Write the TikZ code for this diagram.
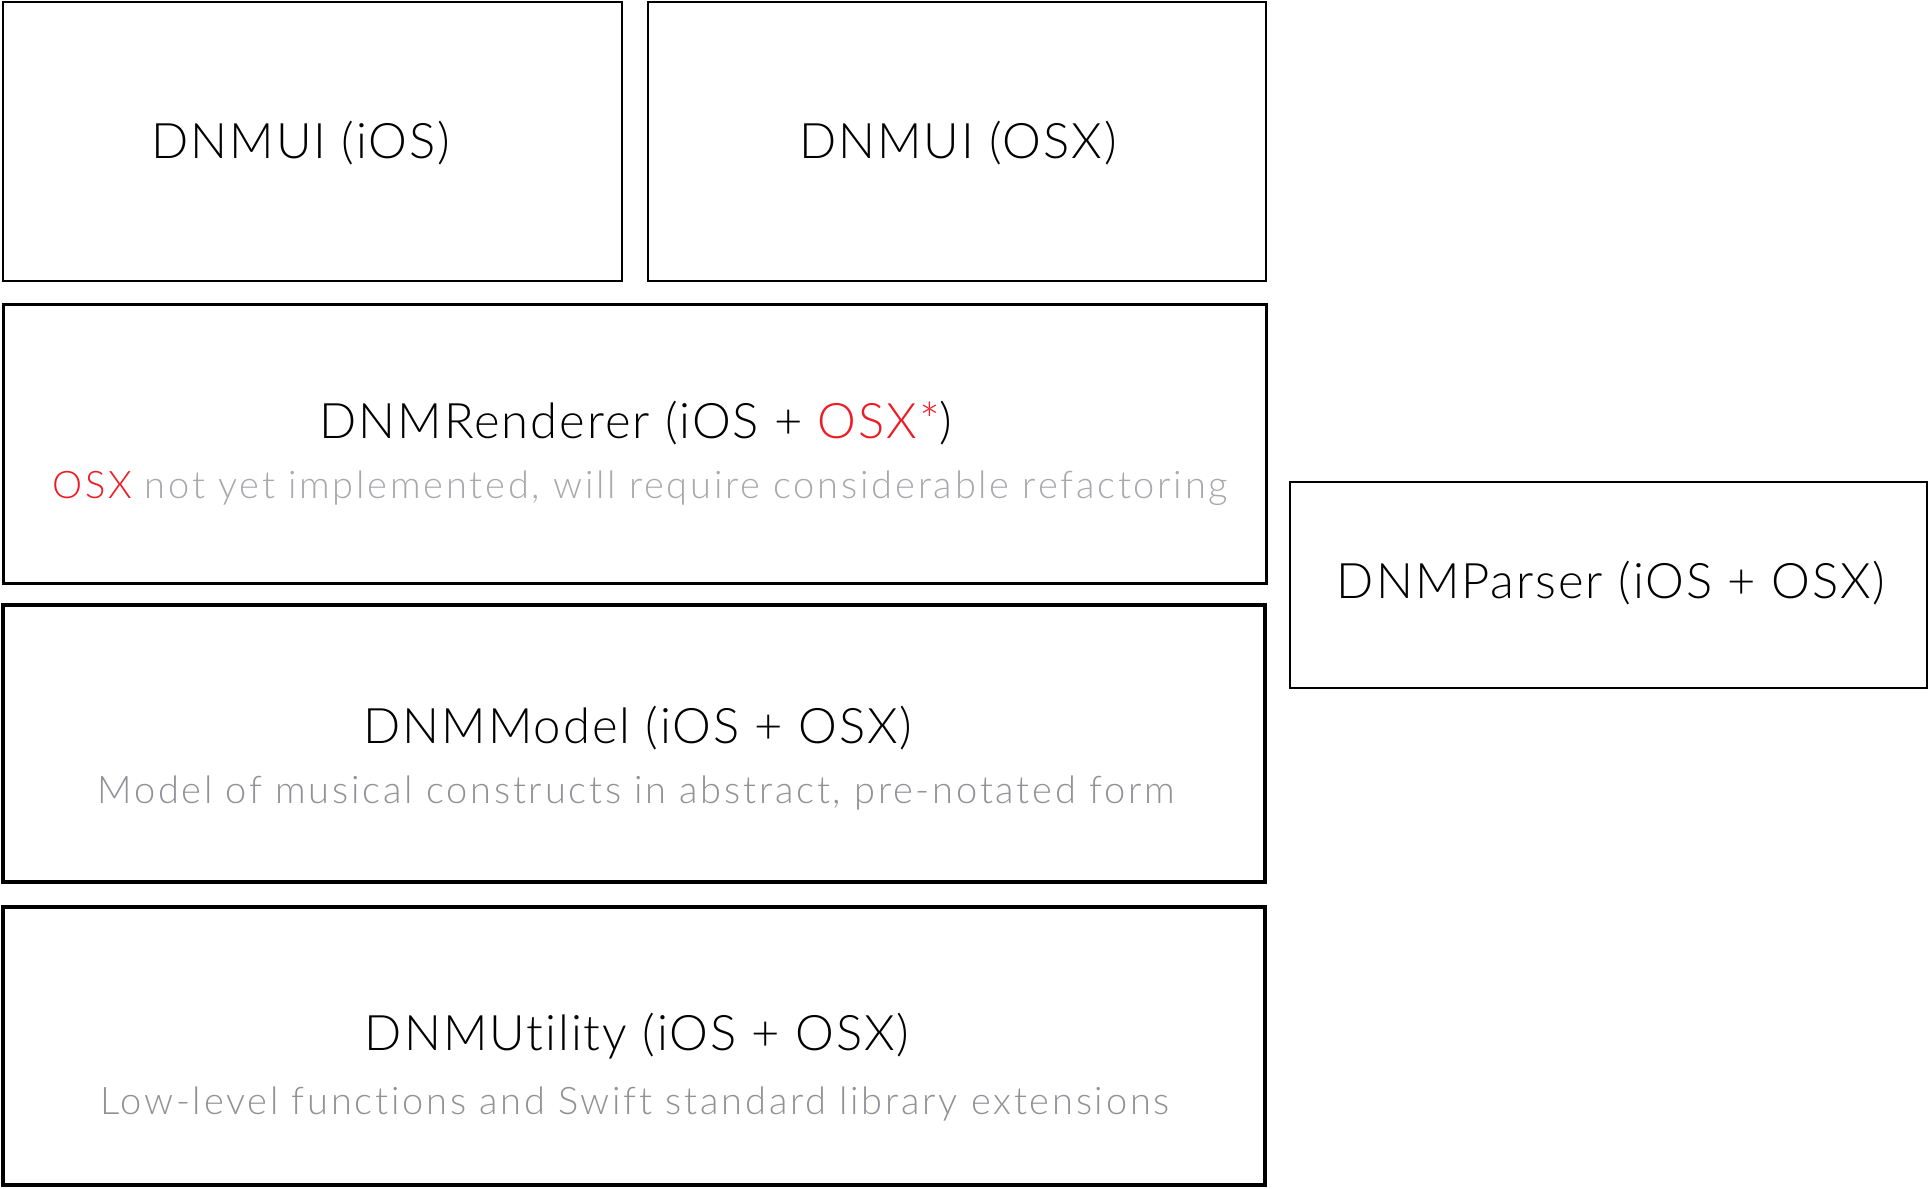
\documentclass[tikz,border=0pt]{standalone}
\usepackage{fontspec}
\setmainfont{Lato Light}
\newfontfamily\titlefont[LetterSpace=4,Ligatures={NoCommon}]{Lato Light}
\newfontfamily\subfont[LetterSpace=7.3,Ligatures={NoCommon}]{Lato Light}
\definecolor{osxred}{RGB}{237,28,36}
\definecolor{subgrayA}{RGB}{168,168,173}
\definecolor{subgrayB}{RGB}{145,145,150}
\begin{document}
\begin{tikzpicture}[x=1pt,y=-1pt,
  box/.style={draw=black,inner sep=0pt,outer sep=0pt,fill=none},
  ttl/.style={anchor=base,inner sep=0pt,font=\titlefont\fontsize{49}{58}\selectfont},
  sub/.style={anchor=base,inner sep=0pt,font=\subfont\fontsize{38}{46}\selectfont}]
\useasboundingbox (0,0) rectangle (1929,1188);
\fill[white] (0,0) rectangle (1929,1188);
% boxes
\node[box,line width=2pt,minimum width=619pt,minimum height=279pt] (uiios) at (312,141.5) {};
\node[box,line width=2pt,minimum width=618pt,minimum height=279pt] (uiosx) at (957,141.5) {};
\node[box,line width=3pt,minimum width=1263pt,minimum height=279pt] (rend) at (634.5,443.5) {};
\node[box,line width=4pt,minimum width=1262pt,minimum height=277pt] (model) at (634,743.5) {};
\node[box,line width=4pt,minimum width=1262pt,minimum height=278pt] (util) at (634,1046) {};
\node[box,line width=2pt,minimum width=637pt,minimum height=206pt] (parser) at (1608.5,585) {};
% texts
\node[ttl] (tuiios) at (301,158) {DNMUI (iOS)};
\node[ttl] (tuiosx) at (958,158) {DNMUI (OSX)};
\node[ttl] (trend) at (636,438) {DNMRenderer (iOS + \textcolor{osxred}{OSX*})};
\node[sub,text=subgrayA] (srend) at (640,498) {\textcolor{osxred}{OSX} not yet implemented, will require considerable refactoring};
\node[ttl] (tparser) at (1611,598) {DNMParser (iOS + OSX)};
\node[ttl] (tmodel) at (638,743) {DNMModel (iOS + OSX)};
\node[sub,text=subgrayB] (smodel) at (636,803) {Model of musical constructs in abstract, pre-notated form};
\node[ttl] (tutil) at (637,1050) {DNMUtility (iOS + OSX)};
\node[sub,text=subgrayB] (sutil) at (635,1114) {Low-level functions and Swift standard library extensions};
\end{tikzpicture}
\end{document}
